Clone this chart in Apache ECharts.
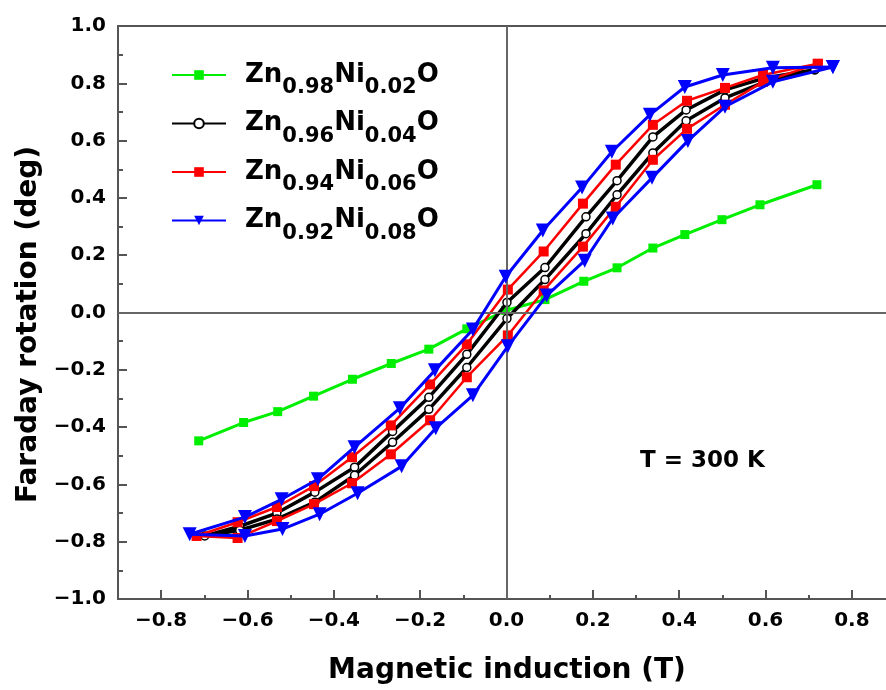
<!DOCTYPE html>
<html><head><meta charset="utf-8">
<script src="https://cdn.jsdelivr.net/npm/echarts@6/dist/echarts.min.js"></script>
<style>html,body{margin:0;padding:0;background:#fff}#c{width:886px;height:690px}</style>
</head><body><div id="c"></div>
<script>
// ---------- data ----------
const seriesNames = ['Zn0.98Ni0.02O', 'Zn0.96Ni0.04O', 'Zn0.94Ni0.06O', 'Zn0.92Ni0.08O'];

// Zn0.98Ni0.02O (green)
const ni02_B   = [-0.713, -0.609, -0.530, -0.447, -0.357, -0.267, -0.180, -0.092, -0.002, 0.089, 0.179, 0.256, 0.339, 0.413, 0.499, 0.587, 0.719];
const ni02_rot = [-0.448, -0.384, -0.346, -0.292, -0.233, -0.178, -0.128, -0.057, 0.007, 0.045, 0.109, 0.156, 0.225, 0.272, 0.324, 0.376, 0.446];

// Zn0.96Ni0.04O (black)
const ni04_B       = [-0.699, -0.618, -0.532, -0.444, -0.352, -0.264, -0.180, -0.092, 0.001, 0.089, 0.184, 0.256, 0.339, 0.416, 0.506, 0.599, 0.714];
const ni04_rotUp   = [-0.780, -0.746, -0.700, -0.627, -0.540, -0.415, -0.296, -0.146, 0.035, 0.157, 0.334, 0.460, 0.613, 0.707, 0.777, 0.819, 0.847];
const ni04_rotDown = [-0.780, -0.760, -0.721, -0.662, -0.568, -0.453, -0.338, -0.192, -0.021, 0.115, 0.275, 0.411, 0.557, 0.669, 0.749, 0.805, 0.847];

// Zn0.94Ni0.06O (red)
const ni06_B       = [-0.718, -0.623, -0.532, -0.446, -0.358, -0.268, -0.177, -0.092, 0.003, 0.086, 0.177, 0.253, 0.339, 0.418, 0.506, 0.594, 0.721];
const ni06_rotUp   = [-0.780, -0.732, -0.679, -0.606, -0.505, -0.394, -0.251, -0.111, 0.080, 0.213, 0.380, 0.516, 0.655, 0.739, 0.784, 0.829, 0.868];
const ni06_rotDown = [-0.780, -0.787, -0.728, -0.669, -0.596, -0.495, -0.376, -0.226, -0.080, 0.077, 0.230, 0.369, 0.533, 0.641, 0.725, 0.805, 0.868];

// Zn0.92Ni0.08O (blue)
const ni08_BUp     = [-0.734, -0.606, -0.521, -0.437, -0.352, -0.247, -0.166, -0.078, -0.002, 0.084, 0.175, 0.244, 0.332, 0.413, 0.501, 0.617, 0.756];
const ni08_rotUp   = [-0.774, -0.714, -0.652, -0.582, -0.470, -0.334, -0.202, -0.059, 0.125, 0.286, 0.436, 0.561, 0.690, 0.787, 0.829, 0.854, 0.857];
const ni08_BDown   = [-0.734, -0.606, -0.519, -0.433, -0.345, -0.243, -0.164, -0.078, 0.003, 0.093, 0.181, 0.246, 0.337, 0.420, 0.506, 0.617, 0.756];
const ni08_rotDown = [-0.774, -0.780, -0.756, -0.704, -0.631, -0.537, -0.404, -0.289, -0.118, 0.059, 0.181, 0.328, 0.470, 0.599, 0.718, 0.805, 0.857];

// ticks & labels
const xMajorTicks = [-0.8, -0.6, -0.4, -0.2, 0.0, 0.2, 0.4, 0.6, 0.8];
const xMinorTicks = [-0.7, -0.5, -0.3, -0.1, 0.1, 0.3, 0.5, 0.7];
const xTitle = 'Magnetic induction (T)';
const yTitle = 'Faraday rotation (deg)';
const annotation = 'T = 300 K';

// ---------- helpers ----------
const FONT = 'DejaVu Sans';
const pairs = (xs, ys) => xs.map((x, i) => [x, ys[i]]);
function loop(xUp, yUp, xDown, yDown) {
  const up = pairs(xUp, yUp).reverse();          // descending field branch
  const down = pairs(xDown, yDown).slice(1);       // ascending field branch
  return up.concat(down);
}
const fmt = v => (v < -1e-9 ? '\u2212' : '') + Math.abs(v).toFixed(1);
const AX = '#555';

const chart = echarts.init(document.getElementById('c'), null, {renderer: 'canvas'});
const gridRect = {left: 118, top: 26, right: 0, bottom: 90};
const XMIN = -0.9, XMAX = 0.879;

chart.setOption({
  animation: false,
  backgroundColor: '#fff',
  grid: [Object.assign({}, gridRect), Object.assign({}, gridRect)],
  xAxis: [
    {
      type: 'value', gridIndex: 0, min: XMIN, max: XMAX, position: 'bottom',
      axisLine: {show: true, onZero: false, lineStyle: {color: AX, width: 2}},
      axisTick: {show: true, inside: true, length: 9, customValues: xMajorTicks, lineStyle: {color: AX, width: 2}},
      axisLabel: {customValues: xMajorTicks, formatter: fmt, fontFamily: FONT, fontWeight: 'bold', fontSize: 20, color: '#000', margin: 12},
      splitLine: {show: false},
      name: xTitle, nameLocation: 'middle', nameGap: 58,
      nameTextStyle: {fontFamily: FONT, fontWeight: 'bold', fontSize: 28, color: '#000', padding: [0, 0, 0, 10]}
    },
    {
      type: 'value', gridIndex: 1, min: XMIN, max: XMAX, position: 'bottom',
      axisLine: {show: false, onZero: false},
      axisTick: {show: true, inside: true, length: 5, customValues: xMinorTicks, lineStyle: {color: AX, width: 2}},
      axisLabel: {show: false}, splitLine: {show: false}
    },
    {
      type: 'value', gridIndex: 1, min: XMIN, max: XMAX, position: 'top',
      axisLine: {show: true, onZero: false, lineStyle: {color: AX, width: 2}},
      axisTick: {show: false}, axisLabel: {show: false}, splitLine: {show: false}
    }
  ],
  yAxis: [
    {
      type: 'value', gridIndex: 0, min: -1, max: 1, interval: 0.2,
      axisLine: {show: true, onZero: false, lineStyle: {color: AX, width: 2}},
      axisTick: {show: true, inside: true, length: 9, lineStyle: {color: AX, width: 2}},
      minorTick: {show: true, splitNumber: 2, length: 5, lineStyle: {color: AX, width: 2}},
      axisLabel: {formatter: fmt, fontFamily: FONT, fontWeight: 'bold', fontSize: 20, color: '#000', margin: 12},
      splitLine: {show: false}, minorSplitLine: {show: false},
      name: yTitle, nameLocation: 'middle', nameGap: 70,
      nameTextStyle: {fontFamily: FONT, fontWeight: 'bold', fontSize: 28, color: '#000', padding: [0, 24, 0, 0]}
    },
    {type: 'value', gridIndex: 1, min: -1, max: 1, show: false}
  ],
  legend: {
    data: seriesNames, orient: 'vertical', left: 166, top: 57,
    itemWidth: 54, itemHeight: 12, itemGap: 12,
    formatter: name => name.replace(/([A-Za-z]+)([0-9.]*)/g, (m, el, num) => '{a|' + el + '}' + (num ? '{s|' + num + '}' : '')),
    textStyle: {
      color: '#000', fontFamily: FONT, fontWeight: 'bold', padding: [0, 0, 0, 14],
      rich: {
        a: {fontFamily: FONT, fontWeight: 'bold', fontSize: 26, lineHeight: 47, color: '#000'},
        s: {fontFamily: FONT, fontWeight: 'bold', fontSize: 21, lineHeight: 24, verticalAlign: 'bottom', color: '#000'}
      }
    }
  },
  graphic: [{
    type: 'text', left: 640, top: 450, z: 50,
    style: {text: annotation, font: 'bold 23px "DejaVu Sans"', fill: '#000'}
  }],
  series: [
    {
      type: 'line', name: '_axes0', data: [], silent: true, z: 1,
      markLine: {
        symbol: ['none', 'none'], silent: true, animation: false,
        label: {show: false},
        lineStyle: {color: '#666', width: 2, type: 'solid'},
        data: [{xAxis: 0}, {yAxis: 0}]
      }
    },
    {
      type: 'line', name: seriesNames[0], z: 2,
      data: pairs(ni02_B, ni02_rot),
      symbol: 'rect', symbolSize: 9,
      itemStyle: {color: '#00ee00'}, lineStyle: {color: '#00ee00', width: 3}
    },
    {
      type: 'line', name: seriesNames[1], z: 3,
      data: loop(ni04_B, ni04_rotUp, ni04_B, ni04_rotDown),
      symbol: 'circle', symbolSize: 8, showAllSymbol: true,
      itemStyle: {color: '#fff', borderColor: '#000', borderWidth: 1.5},
      lineStyle: {color: '#000', width: 3.5}
    },
    {
      type: 'line', name: seriesNames[2], z: 4,
      data: loop(ni06_B, ni06_rotUp, ni06_B, ni06_rotDown),
      symbol: 'rect', symbolSize: 10, showAllSymbol: true,
      itemStyle: {color: '#ff0000'}, lineStyle: {color: '#ff0000', width: 2.5}
    },
    {
      type: 'line', name: seriesNames[3], z: 5,
      data: loop(ni08_BUp, ni08_rotUp, ni08_BDown, ni08_rotDown),
      symbol: 'triangle', symbolRotate: 180, symbolSize: 14, showAllSymbol: true,
      itemStyle: {color: '#0000ff'}, lineStyle: {color: '#0000ff', width: 3}
    }
  ]
});
</script>
</body></html>
